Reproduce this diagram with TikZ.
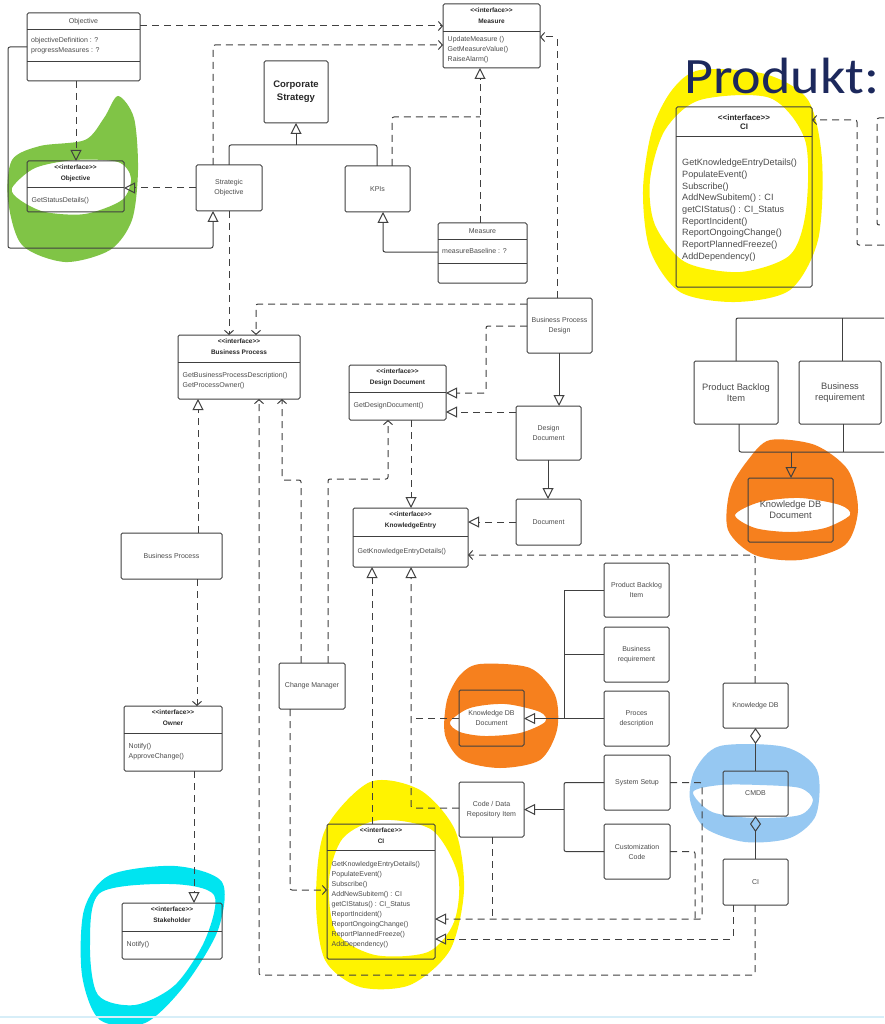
\documentclass[tikz,border=0pt]{standalone}
\usepackage{fontspec}
\setmainfont{Liberation Sans}
\newfontfamily\prodfont{Carlito}
\usetikzlibrary{arrows.meta,calc}
\definecolor{lc}{RGB}{64,64,64}
\definecolor{tc}{RGB}{75,75,75}
\definecolor{hc}{RGB}{40,40,40}
\definecolor{hlgreen}{RGB}{128,196,70}
\definecolor{hlyellow}{RGB}{255,243,0}
\definecolor{hlorange}{RGB}{246,128,30}
\definecolor{hlblue}{RGB}{150,200,242}
\definecolor{hlcyan}{RGB}{0,228,240}
\definecolor{prodblue}{RGB}{28,40,92}
\definecolor{footline}{RGB}{215,238,248}
\tikzset{
 box/.style={draw=lc, line width=1pt, rounded corners=1.5pt, inner sep=0pt, outer sep=0pt, anchor=north west},
 sbox/.style={box, font=\fontsize{7}{10}\selectfont, text=tc, align=center},
 lbox/.style={box, font=\fontsize{9.3}{11}\selectfont, text=tc, align=center},
 boxln/.style={draw=lc, line width=1pt},
 hdr/.style={font=\bfseries\fontsize{6.5}{10.5}\selectfont, text=hc, align=center, inner sep=0pt, anchor=north},
 mth/.style={font=\fontsize{7}{10}\selectfont, text=tc, align=left, inner sep=0pt, anchor=north west},
 conn/.style={draw=lc, line width=1pt, rounded corners=2pt},
 dsh/.style={conn, dash pattern=on 7pt off 5pt},
 tri/.style={-{Triangle[open,length=11pt,width=11pt]}},
 vee/.style={-{Straight Barb[length=4pt,width=9pt]}},
 dia/.style={{Diamond[open,length=16pt,width=11pt]}-},
}
\newcommand\sbx[6]{\node[sbox, minimum width=#4pt, minimum height=#5pt] (#1) at (#2,#3) {#6};}
\newcommand\lbx[6]{\node[lbox, minimum width=#4pt, minimum height=#5pt] (#1) at (#2,#3) {#6};}
\newcommand\iface[9]{%
 \node[box, minimum width=#4pt, minimum height=#5pt] (#1) at (#2,#3) {};
 \draw[boxln] ($(#1.north west)+(0,#6)$) -- ($(#1.north east)+(0,#6)$);
 \node[hdr] (#1-t) at ($(#1.north)+(0,4)$) {<{}<interface>{}>\\#7};
 \node[mth] (#1-m) at ($(#1.north west)+(4.5,#6+#9)$) {#8};
}
\begin{document}
\begin{tikzpicture}[x=1pt,y=-1pt]
\useasboundingbox (0,0) rectangle (884,1024);
\fill[white] (0,0) rectangle (884,1024);
% ---------- highlighter marks ----------
\fill[hlgreen, even odd rule]
  plot[smooth cycle] coordinates {(118,96) (134,118) (138,170) (132,220) (110,250) (65,262) (22,245) (8,200) (12,160) (40,146) (85,140) (104,118)}
  plot[smooth cycle] coordinates {(12,188) (35,168) (75,160) (118,162) (131,178) (122,200) (85,214) (45,212) (20,200)};
\fill[hlyellow, even odd rule]
  plot[smooth cycle] coordinates {(700,70) (765,74) (808,100) (822,160) (818,240) (790,290) (735,302) (680,292) (650,250) (643,190) (652,130) (672,90)}
  plot[smooth cycle] coordinates {(700,100) (770,98) (805,140) (806,210) (790,255) (740,272) (685,262) (655,225) (650,180) (665,130)};
\fill[hlorange, even odd rule]
  plot[smooth cycle] coordinates {(770,440) (815,445) (848,470) (858,510) (845,545) (800,560) (755,555) (728,530) (730,490) (748,460)}
  plot[smooth cycle] coordinates {(735,515) (760,502) (800,498) (840,505) (850,515) (825,528) (790,532) (755,528)};
\fill[hlorange, even odd rule]
  plot[smooth cycle] coordinates {(480,664) (530,668) (555,695) (557,730) (540,760) (500,768) (462,760) (445,735) (447,700) (460,675)}
  plot[smooth cycle] coordinates {(450,722) (470,708) (505,704) (540,712) (545,722) (520,733) (485,736) (460,732)};
\fill[hlblue, even odd rule]
  plot[smooth cycle] coordinates {(720,746) (785,747) (817,770) (816,815) (790,838) (745,842) (705,828) (690,800) (695,770)}
  plot[smooth cycle] coordinates {(693,792) (720,785) (760,785) (800,788) (813,800) (800,815) (755,818) (712,812)};
\fill[hlyellow, even odd rule]
  plot[smooth cycle] coordinates {(370,782) (420,790) (455,830) (464,890) (450,950) (410,985) (360,987) (325,960) (316,900) (325,830)}
  plot[smooth cycle] coordinates {(380,820) (432,830) (458,875) (454,922) (428,952) (375,955) (336,932) (329,880) (343,838)};
\fill[hlcyan, even odd rule]
  plot[smooth cycle] coordinates {(110,875) (175,866) (222,882) (218,930) (185,985) (145,1023) (100,1020) (82,975) (84,910)}
  plot[smooth cycle] coordinates {(100,893) (170,884) (214,895) (205,940) (175,985) (135,1005) (98,995) (90,945)};
\draw[footline, line width=2pt] (0,1017) -- (884,1017);
% ---------- title ----------
\node[anchor=base west, inner sep=0pt, font=\prodfont\fontsize{51}{51}\selectfont, text=prodblue, xscale=1.1] (prod) at (684,94) {Produkt:};
% ---------- classes ----------
\node[box, minimum width=113pt, minimum height=68pt] (obj) at (27,13) {};
\draw[boxln] ($(obj.north west)+(0,17)$) -- ($(obj.north east)+(0,17)$);
\draw[boxln] ($(obj.north west)+(0,49)$) -- ($(obj.north east)+(0,49)$);
\node[mth, anchor=center] (obj-t) at ($(obj.north)+(0,8.5)$) {Objective};
\node[mth] (obj-a) at ($(obj.north west)+(4,24)$) {objectiveDefinition : ?\\progressMeasures : ?};
\node[box, minimum width=89pt, minimum height=60pt] (meas) at (438,223) {};
\draw[boxln] ($(meas.north west)+(0,16)$) -- ($(meas.north east)+(0,16)$);
\draw[boxln] ($(meas.north west)+(0,40)$) -- ($(meas.north east)+(0,40)$);
\node[mth, anchor=center] (meas-t) at ($(meas.north)+(0,8)$) {Measure};
\node[mth] (meas-a) at ($(meas.north west)+(4,25)$) {measureBaseline : ?};
\iface{imeas}{443}{4}{97}{64}{28}{Measure}{UpdateMeasure ()\\GetMeasureValue()\\RaiseAlarm()}{4}
\iface{iobj}{27}{161}{97}{51}{27}{Objective}{GetStatusDetails()}{9}
\iface{ibp}{178}{335}{122}{64}{27}{Business Process}{GetBusinessProcessDescription()\\GetProcessOwner()}{10}
\iface{idd}{349}{365}{97}{55}{27}{Design Document}{GetDesignDocument()}{10}
\iface{ike}{353}{508}{115}{59}{28}{KnowledgeEntry}{GetKnowledgeEntryDetails()}{12}
\iface{iown}{124}{706}{98}{65}{27}{Owner}{Notify()\\ApproveChange()}{10}
\iface{istk}{122}{903}{100}{56}{28}{Stakeholder}{Notify()}{10}
\iface{ici}{327}{824}{108}{135}{26}{CI}{GetKnowledgeEntryDetails()\\PopulateEvent()\\Subscribe()\\AddNewSubitem() : CI\\getCIStatus() : CI\_Status\\ReportIncident()\\ReportOngoingChange()\\ReportPlannedFreeze()\\AddDependency()}{11}
% top right CI
\node[box, minimum width=136pt, minimum height=180pt] (iciT) at (676,107) {};
\draw[boxln] ($(iciT.north west)+(0,30)$) -- ($(iciT.north east)+(0,30)$);
\node[hdr, font=\bfseries\fontsize{8}{9.5}\selectfont] (iciT-t) at ($(iciT.north)+(0,7.5)$) {<{}<interface>{}>\\CI};
\node[mth, font=\fontsize{9.1}{11.7}\selectfont] (iciT-m) at ($(iciT.north west)+(6,52)$) {GetKnowledgeEntryDetails()\\PopulateEvent()\\Subscribe()\\AddNewSubitem() : CI\\getCIStatus() : CI\_Status\\ReportIncident()\\ReportOngoingChange()\\ReportPlannedFreeze()\\AddDependency()};
% simple boxes
\node[box, minimum width=64pt, minimum height=62pt, font=\bfseries\fontsize{9.5}{13}\selectfont, text=hc, align=center] (cs) at (264,61) {Corporate\\Strategy};
\sbx{so}{196}{165}{66}{46}{Strategic\\Objective}
\sbx{kpis}{345}{166}{65}{46}{KPIs}
\sbx{bpd}{527}{298}{65}{55}{Business Process\\Design}
\sbx{ddb}{516}{406}{65}{54}{Design\\Document}
\sbx{doc}{516}{499}{65}{46}{Document}
\sbx{bp}{121}{533}{101}{46}{Business Process}
\sbx{cm}{279}{663}{66}{46}{Change Manager}
\sbx{kdbd}{459}{690}{65}{56}{Knowledge DB\\Document}
\sbx{cdr}{459}{782}{65}{55}{Code / Data\\Repository Item}
\sbx{pbi}{604}{563}{65}{54}{Product Backlog\\Item}
\sbx{br}{604}{627}{65}{55}{Business\\requirement}
\sbx{pd}{604}{691}{65}{55}{Proces\\description}
\sbx{ss}{604}{755}{66}{55}{System Setup}
\sbx{cc}{604}{824}{66}{55}{Customization\\Code}
\sbx{kdb}{723}{683}{65}{45}{Knowledge DB}
\sbx{cmdb}{723}{771}{65}{45}{CMDB}
\sbx{cis}{723}{859}{65}{46}{CI}
\lbx{pbiR}{694}{361}{84}{63}{Product Backlog\\Item}
\lbx{brR}{799}{361}{82}{63}{Business\\requirement}
\lbx{kdbdR}{748}{478}{85}{64}{Knowledge DB\\Document}
% free ends at the right edge
\coordinate (eA) at (884,245);
\coordinate (eB) at (884,118);
\coordinate (eC) at (884,225);
\coordinate (eD) at (884,318);
\coordinate (eE) at (884,452);
% ---------- connectors ----------
\draw[dsh,tri] (76,0 |- obj.south) -- (76,0 |- iobj.north);
\draw[conn,tri] (obj.west |- 0,47) -- (8,47) -- (8,248) -- (213,248) -- (213,0 |- so.south);
\draw[dsh,tri] (so.west) -- (so.west -| iobj.east);
\draw[dsh,vee] (213,0 |- so.north) -- (213,45) -- (imeas.west |- 0,45);
\draw[dsh,vee] (obj.east |- 0,26) -- (imeas.west |- 0,26);
\draw[conn] (229,0 |- so.north) -- (229,145) -- (377,145) -- (377,0 |- kpis.north);
\draw[conn,tri] (296,145) -- (296,0 |- cs.south);
\draw[conn,tri] (meas.west |- 0,252) -- (383,252) -- (383,0 |- kpis.south);
\draw[dsh,tri] (480,0 |- meas.north) -- (480,0 |- imeas.south);
\draw[dsh] (392,0 |- kpis.north) -- (392,117) -- (480,117);
\draw[dsh,vee] (557,0 |- bpd.north) -- (557,37) -- (imeas.east |- 0,37);
\draw[dsh,vee] (229,0 |- so.south) -- (229,0 |- ibp.north);
\draw[dsh,vee] (bpd.west |- 0,304) -- (256,304) -- (256,0 |- ibp.north);
\draw[dsh,tri] (bpd.west |- 0,326) -- (486,326) -- (486,393) -- (idd.east |- 0,393);
\draw[dsh,tri] (ddb.west |- 0,412) -- (idd.east |- 0,412);
\draw[conn,tri] (559,0 |- bpd.south) -- (559,0 |- ddb.north);
\draw[conn,tri] (548,0 |- ddb.south) -- (548,0 |- doc.north);
\draw[dsh,tri] (doc.west) -- (doc.west -| ike.east);
\draw[dsh,tri] (411,0 |- idd.south) -- (411,0 |- ike.north);
\draw[dsh,tri] (198,0 |- bp.north) -- (198,0 |- ibp.south);
\draw[dsh,vee] (197,0 |- bp.south) -- (197,0 |- iown.north);
\draw[dsh,tri] (194,0 |- iown.south) -- (194,0 |- istk.north);
\draw[dsh,vee] (755,0 |- cis.south) -- (755,975) -- (259,975) -- (259,0 |- ibp.south);
\draw[dsh,vee] (301,0 |- cm.north) -- (301,480) -- (282,480) -- (282,0 |- ibp.south);
\draw[dsh,vee] (328,0 |- cm.north) -- (328,479) -- (388,479) -- (388,0 |- idd.south);
\draw[dsh,vee] (290,0 |- cm.south) -- (290,890) -- (ici.west |- 0,890);
\draw[dsh,tri] (372,0 |- ici.north) -- (372,0 |- ike.south);
\draw[dsh,tri] (cdr.west |- 0,808) -- (411,808) -- (411,0 |- ike.south);
\draw[dsh] (kdbd.west |- 0,718) -- (411,718);
\draw[dsh,vee] (755,0 |- kdb.north) -- (755,555) -- (ike.east |- 0,555);
\draw[conn] (564,0 |- pbi.west) -- (564,0 |- pd.west);
\draw[conn] (pbi.west) -- (pbi.west -| 564,0);
\draw[conn] (br.west) -- (br.west -| 564,0);
\draw[conn,tri] (pd.west) -- (pd.west -| kdbd.east);
\draw[conn] (ss.west) -- (ss.west -| 564,0) -- (564,0 |- cc.west) -- (cc.west);
\draw[conn,tri] (564,0 |- cdr.east) -- (cdr.east);
\draw[dsh,tri] (ss.east) -- (ss.east -| 702,0) -- (702,919) -- (ici.east |- 0,919);
\draw[dsh] (cc.east) -- (cc.east -| 695,0) -- (695,919);
\draw[dsh] (492,0 |- cdr.south) -- (492,919);
\draw[dsh,tri] (733,0 |- cis.south) -- (733,939) -- (ici.east |- 0,939);
\draw[conn,dia] (kdb.south) -- (cmdb.north);
\draw[conn,dia] (cmdb.south) -- (cis.north);
\draw[dsh,vee] (eA) -- (857,245) -- (857,120) -- (iciT.east |- 0,120);
\draw[dsh] (eB) -- (877,118) -- (877,225) -- (eC);
\draw[conn] (736,0 |- pbiR.north) -- (736,318) -- (eD);
\draw[conn] (842,0 |- brR.north) -- (842,318);
\draw[conn] (739,0 |- pbiR.south) -- (739,452) -- (eE);
\draw[conn] (843,0 |- brR.south) -- (843,452);
\draw[conn,tri] (791,452) -- (791,0 |- kdbdR.north);
\end{tikzpicture}
\end{document}
